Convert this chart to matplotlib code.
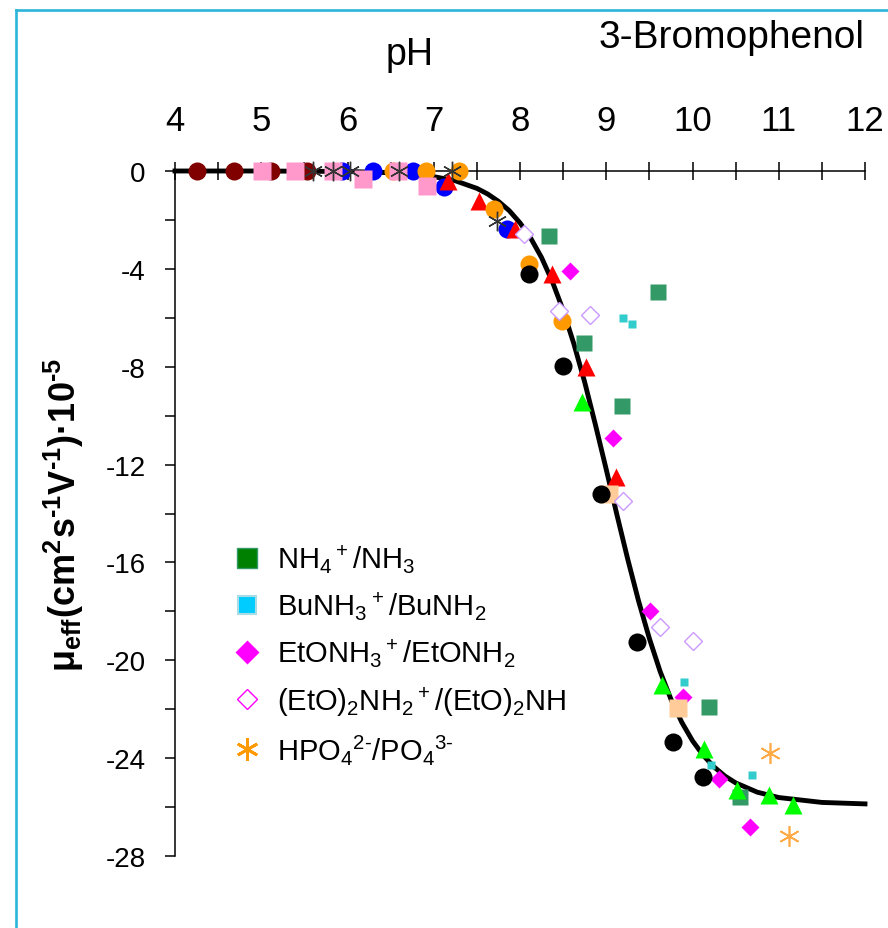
import numpy as np
import matplotlib.pyplot as plt
from matplotlib.lines import Line2D

plt.rcParams['font.family'] = ['Liberation Sans', 'DejaVu Sans']
plt.rcParams['mathtext.default'] = 'regular'
plt.rcParams['axes.unicode_minus'] = False

# fitted mobility curve
curve_ph = [4, 5, 6, 6.5, 7, 7.25, 7.5, 7.625, 7.75, 7.875, 8, 8.125, 8.25, 8.375,
            8.5, 8.625, 8.75, 8.875, 9, 9.125, 9.25, 9.375, 9.5, 9.625, 9.75,
            9.875, 10, 10.125, 10.25, 10.375, 10.5, 10.75, 11, 11.5, 12]
curve_mu = [0, 0, -0.02, -0.07, -0.23, -0.4, -0.71, -0.94, -1.24, -1.62, -2.12,
            -2.75, -3.54, -4.52, -5.69, -7.07, -8.63, -10.38, -12.2, -14.07,
            -15.88, -17.58, -19.11, -20.46, -21.59, -22.53, -23.29, -23.89,
            -24.36, -24.73, -25.01, -25.39, -25.61, -25.81, -25.87]

# buffers without legend entries
darkred_ph = [4.26, 4.68, 5.11, 5.53]
darkred_mu = [0, 0, 0, 0]
blue_ph = [5.94, 6.30, 6.76, 7.12, 7.85]
blue_mu = [0, 0, 0, -0.65, -2.37]
redtri_ph = [7.16, 7.53, 7.94, 8.37, 8.77, 9.11]
redtri_mu = [-0.4, -1.23, -2.37, -4.21, -8.0, -12.5]
orange_ph = [6.53, 6.91, 7.29, 7.70, 8.10, 8.49]
orange_mu = [0, 0, 0, -1.55, -3.8, -6.13]
pink_ph = [5.01, 5.39, 5.83, 6.18, 6.59, 6.92]
pink_mu = [0, 0, 0, -0.33, 0, -0.61]
grey_ph = [5.60, 5.83, 6.03, 6.60, 7.21, 7.73]
grey_mu = [0, 0, 0, 0, 0, -2.05]
peach_ph = [9.03, 9.83]
peach_mu = [-13.2, -21.95]
black_ph = [8.10, 8.50, 8.94, 9.36, 9.77, 10.12]
black_mu = [-4.21, -7.97, -13.2, -19.26, -23.35, -24.78]
green_ph = [8.72, 9.65, 10.13, 10.52, 10.89, 11.17]
green_mu = [-9.44, -21.0, -23.63, -25.3, -25.5, -25.9]

# legend series
nh4_ph = [8.34, 9.60, 8.74, 9.18, 10.19, 10.55]
nh4_mu = [-2.66, -4.95, -7.03, -9.6, -21.9, -25.6]
bu_ph = [9.19, 9.30, 9.90, 10.21, 10.69]
bu_mu = [-6.0, -6.26, -20.9, -24.3, -24.7]
eton_ph = [8.58, 9.08, 9.51, 9.89, 10.31, 10.67]
eton_mu = [-4.09, -10.9, -18.0, -21.5, -24.86, -26.8]
eto2_ph = [8.05, 8.45, 8.81, 9.19, 9.62, 10.0]
eto2_mu = [-2.58, -5.71, -5.89, -13.5, -18.65, -19.2]
hpo_ph = [10.90, 11.12]
hpo_mu = [-23.8, -27.2]

legend_labels = ['NH$_4{}^+$/NH$_3$', 'BuNH$_3{}^+$/BuNH$_2$', 'EtONH$_3{}^+$/EtONH$_2$',
                 '(EtO)$_2$NH$_2{}^+$/(EtO)$_2$NH', 'HPO$_4{}^{2\u2010}$/PO$_4{}^{3\u2010}$']

fig = plt.figure(figsize=(8.88, 9.29), dpi=100)
ax = fig.add_axes([175/888, 72/929, 690/888, 685/929])

ax.plot(curve_ph, curve_mu, color='black', lw=3.5, zorder=2, clip_on=False,
        solid_joinstyle='round')

def pts(x, y, **kw):
    ax.plot(x, y, linestyle='none', clip_on=False, **kw)

pts(darkred_ph, darkred_mu, marker='o', ms=13, color='#800000', mec='none', zorder=3)
pts(blue_ph, blue_mu, marker='o', ms=13, color='#0000ff', mec='none', zorder=3)
pts(redtri_ph, redtri_mu, marker='^', ms=13, color='#ff0000', mec='none', zorder=3)
pts(orange_ph, orange_mu, marker='o', ms=13, color='#ff9900', mec='none', zorder=3)
pts(pink_ph, pink_mu, marker='s', ms=13, color='#ff99cc', mec='none', zorder=3)
pts(grey_ph, grey_mu, marker=(6, 2, 0), ms=14, color='#333333', mew=1, zorder=3)
pts(eton_ph, eton_mu, marker='D', ms=9, color='#ff00ff', mec='none', zorder=3)
pts(peach_ph, peach_mu, marker='s', ms=13, color='#ffcc99', mec='none', zorder=3)
pts(black_ph, black_mu, marker='o', ms=13, color='#000000', mec='none', zorder=3)
pts(nh4_ph, nh4_mu, marker='s', ms=12, color='#339966', mec='none', zorder=3)
pts(bu_ph, bu_mu, marker='s', ms=6, color='#33cccc', mec='none', zorder=3)
pts(eto2_ph, eto2_mu, marker='D', ms=9, mfc='white', mec='#cc99ff', mew=1, zorder=3)
pts(green_ph, green_mu, marker='^', ms=13, color='#00ff00', mec='none', zorder=3)
pts(hpo_ph, hpo_mu, marker=(6, 2, 0), ms=15, color='#ffaa44', mew=1.2, zorder=3)

ax.set_xlim(4, 12)
ax.set_ylim(-28, 0)
ax.xaxis.tick_top()
ax.set_xticks(range(4, 13))
ax.set_xticks(np.arange(4.5, 12, 1), minor=True)
ax.set_yticks(range(-28, 1, 4))
ax.set_yticks(range(-26, 0, 4), minor=True)
ax.tick_params(axis='x', which='both', direction='inout', length=13, width=1.1,
               labelsize=25, pad=18, top=True, bottom=False)
ax.tick_params(axis='y', which='both', direction='out', length=7, width=1.1,
               labelsize=20, pad=14)
for s in ['bottom', 'right']:
    ax.spines[s].set_visible(False)
for s in ['top', 'left']:
    ax.spines[s].set_linewidth(1.1)

ax.set_ylabel('μ$_{eff}$(cm$^2$s$^{\u20101}$V$^{\u20101}$)·10$^{\u20105}$', fontsize=26,
              fontweight='bold', labelpad=14)
fig.text(410/888, 1 - 65/929, 'pH', fontsize=27, ha='center', va='baseline')
fig.text(865/888, 1 - 48/929, '3-Bromophenol', fontsize=28, ha='right', va='baseline')

handles = [
    Line2D([], [], ls='none', marker='s', ms=14, color='#008000', mec='#339966'),
    Line2D([], [], ls='none', marker='s', ms=13, color='#00ccff', mec='#a8dce6', mew=1.5),
    Line2D([], [], ls='none', marker='D', ms=12, color='#ff00ff', mec='none'),
    Line2D([], [], ls='none', marker='D', ms=10, mfc='white', mec='#ff00ff', mew=1),
    Line2D([], [], ls='none', marker=(6, 2, 0), ms=16, color='#ff9900', mew=2),
]
ax.legend(handles, legend_labels, loc='upper left', bbox_to_anchor=(0.067, 0.475),
          frameon=False, fontsize=21, handlelength=1.0, handletextpad=0.5,
          labelspacing=0.5, borderaxespad=0)

# cyan frame around the picture
frame = '#2bb5d9'
fig.add_artist(Line2D([16/888, 16/888], [0, 1 - 10.5/929], color=frame, lw=1.9,
                      transform=fig.transFigure))
fig.add_artist(Line2D([16/888, 1], [1 - 10.5/929, 1 - 10.5/929], color=frame, lw=1.9,
                      transform=fig.transFigure))

fig.savefig('out.png', dpi=100, facecolor='white')
